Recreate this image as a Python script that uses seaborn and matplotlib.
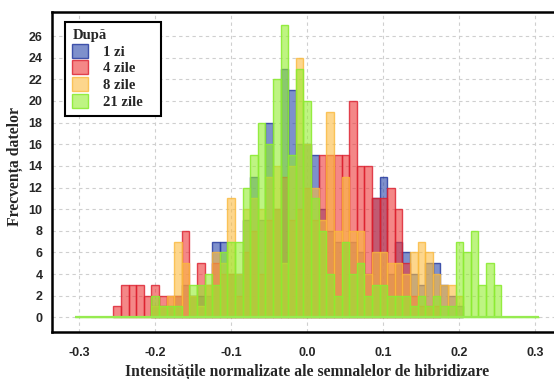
import numpy as np
import pandas as pd
import matplotlib
matplotlib.use("Agg")
import matplotlib.pyplot as plt
from matplotlib.patches import Patch
from matplotlib.font_manager import FontProperties
import seaborn as sns

# ---------------- data ----------------
bin_centers = np.round(np.arange(-25, 26) / 100.0, 2)  # -0.25 ... 0.25

zi_1 = [0, 0, 0, 0, 0, 1, 1, 1, 2, 3, 2, 2, 2, 7, 7, 4, 4, 9, 13, 9,
        18, 10, 23, 21, 16, 16, 15, 10, 8, 7, 7, 7, 6, 4, 11, 13, 4, 7, 6, 4,
        3, 5, 5, 3, 2, 1, 0, 0, 0, 0, 0]
zile_4 = [1, 3, 3, 3, 2, 3, 2, 2, 2, 8, 2, 5, 3, 5, 4, 4, 2, 6, 8, 4,
          9, 10, 13, 9, 10, 12, 9, 15, 15, 15, 15, 20, 14, 14, 11, 11, 12, 10, 5, 2,
          1, 1, 1, 0, 0, 0, 0, 0, 0, 0, 0]
zile_8 = [0, 0, 0, 0, 0, 1, 1, 2, 7, 5, 2, 1, 3, 6, 5, 11, 4, 10, 11, 10,
          13, 14, 5, 14, 24, 16, 12, 9, 19, 8, 13, 8, 8, 4, 6, 6, 5, 5, 4, 6,
          7, 6, 4, 3, 3, 2, 0, 0, 0, 0, 0]
zile_21 = [0, 0, 0, 0, 0, 2, 1, 1, 1, 0, 3, 3, 4, 3, 6, 7, 7, 12, 15, 18,
           16, 22, 27, 15, 23, 20, 11, 8, 4, 2, 7, 4, 5, 2, 3, 3, 2, 2, 2, 1,
           2, 1, 2, 1, 1, 7, 6, 8, 3, 5, 3]

series_labels = ["1 zi", "4 zile", "8 zile", "21 zile"]
x_ticks = [-0.3, -0.2, -0.1, 0.0, 0.1, 0.2, 0.3]
x_tick_labels = ["-0.3", "-0.2", "-0.1", "0.0", "0.1", "0.2", "0.3"]
y_ticks = list(range(0, 27, 2))
full_range = (-0.305, 0.305)
BW = 0.01

frames = []
for lab, vals in zip(series_labels, [zi_1, zile_4, zile_8, zile_21]):
    frames.append(pd.DataFrame({"x": bin_centers, "n": vals, "serie": lab}))
df = pd.concat(frames, ignore_index=True)

# ---------------- style ----------------
sns.set_style("white")
plt.rcParams["font.family"] = ["Liberation Sans", "DejaVu Sans"]

base_colors = {
    "1 zi": (40/255, 70/255, 170/255),
    "4 zile": (238/255, 55/255, 55/255),
    "8 zile": (252/255, 188/255, 63/255),
    "21 zile": (147/255, 238/255, 47/255),
}
edge_colors = {
    "1 zi": (40/255, 60/255, 160/255, 0.85),
    "4 zile": (220/255, 30/255, 45/255, 0.8),
    "8 zile": (250/255, 185/255, 60/255, 0.8),
    "21 zile": (140/255, 235/255, 50/255, 0.9),
}
ALPHA = 0.6

W, H = 554, 379
fig = plt.figure(figsize=(W/100, H/100), dpi=100)
ax_left, ax_right = 52.3, 562.3
ax_top, ax_bottom = 12.3, 331.7
AW, AH = ax_right - ax_left, ax_bottom - ax_top
ax = fig.add_axes([ax_left/W, 1 - ax_bottom/H, AW/W, AH/H])

for lab in series_labels:
    sub = df[(df["serie"] == lab) & (df["n"] > 0)]
    if lab == "21 zile":
        br = full_range
    else:
        br = (sub["x"].min() - BW/2, sub["x"].max() + BW/2)
    sns.histplot(data=sub, x="x", weights="n", binwidth=BW,
                 binrange=br, color=base_colors[lab], alpha=ALPHA,
                 edgecolor=edge_colors[lab], linewidth=1.0, ax=ax, legend=False)

# green baseline of the 21-day histogram over its full bin range
ax.hlines(0, full_range[0], full_range[1], color=(150/255, 235/255, 80/255), linewidth=1.6, zorder=3)

ax.set_xlim(-0.3355, 0.3355)
ax.set_ylim(-1.33, 28.2)
ax.set_xticks(x_ticks)
ax.set_xticklabels(x_tick_labels)
ax.set_yticks(y_ticks)
ax.set_axisbelow(True)
ax.grid(True, linestyle=(0, (3, 3)), color="#cfcfcf", linewidth=0.8)

tick_font = FontProperties(family="Liberation Sans", weight="bold", size=9)
for t in ax.get_xticklabels() + ax.get_yticklabels():
    t.set_fontproperties(tick_font)
ax.tick_params(axis="both", direction="in", length=4, width=1.2, color="black")
ax.tick_params(axis="x", pad=11)
ax.tick_params(axis="y", pad=7)

for s in ax.spines.values():
    s.set_color("black")
    s.set_linewidth(1.8)

label_font = FontProperties(family="Liberation Serif", weight="bold", size=11.3)
ax.set_xlabel("Intensitățile normalizate ale semnalelor de hibridizare", fontproperties=label_font)
ax.set_ylabel("Frecvența datelor", fontproperties=label_font)
ax.xaxis.set_label_coords((307.3 - ax_left)/AW, -(372 - ax_bottom)/AH)
ax.yaxis.set_label_coords(-(52.3 - 15)/AW, (ax_bottom - 167)/AH)
ax.xaxis.label.set_va("center")
ax.yaxis.label.set_va("center")

handles = [Patch(facecolor=(*base_colors[l], ALPHA), edgecolor=edge_colors[l], linewidth=1.0)
           for l in series_labels]
leg_font = FontProperties(family="Liberation Serif", weight="bold", size=10.5)
lx0, ltop, lw, lh = 65, 21.7, 96, 95
leg = ax.legend(handles, series_labels, title="După", loc="upper left",
                bbox_to_anchor=((lx0 - ax_left)/AW, 1 - (ltop + lh - ax_top)/AH, lw/AW, lh/AH),
                mode="expand",
                borderaxespad=0, prop=leg_font, title_fontproperties=leg_font,
                frameon=True, fancybox=False, framealpha=1, edgecolor="black",
                handlelength=1.1, handleheight=1.1, labelspacing=0.12,
                handletextpad=1.0, borderpad=0.5, alignment="left")
leg.get_frame().set_linewidth(1.5)

fig.savefig("out.png", dpi=100)
